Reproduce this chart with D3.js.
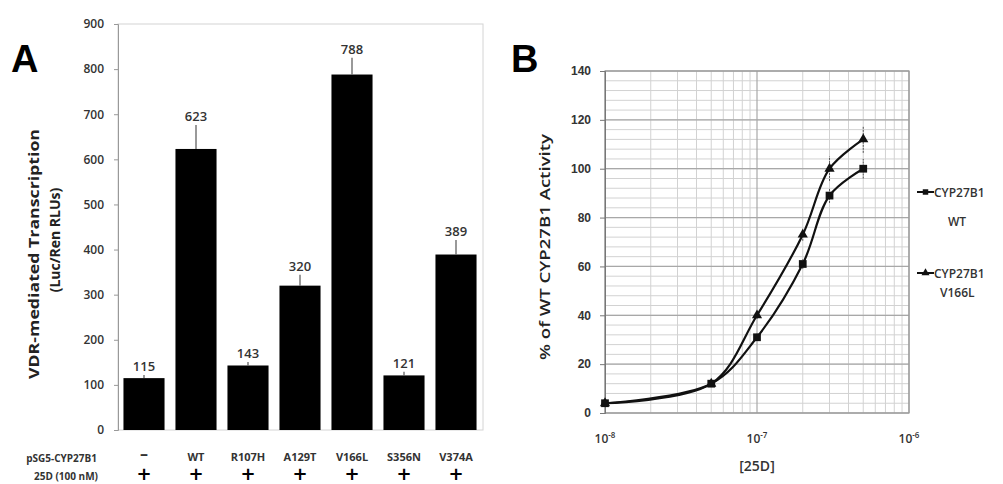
<!DOCTYPE html>
<html>
<head>
<meta charset="utf-8">
<script src="https://cdn.jsdelivr.net/npm/d3@7/dist/d3.min.js"></script>
<style>
  body { margin: 0; background: #fff; }
  svg { display: block; font-family: "Open Sans", "DejaVu Sans", sans-serif; }
</style>
</head>
<body>
<svg id="fig" width="1003" height="484"></svg>
<script>
// Panel A data
var categories = ["\u2013", "WT", "R107H", "A129T", "V166L", "S356N", "V374A"];
var activity = [115, 623, 143, 320, 788, 121, 389];
var activityErr = [7, 53, 8, 24, 37, 8, 32];
var yTicksA = [0, 100, 200, 300, 400, 500, 600, 700, 800, 900];

// Panel B data
var dose = [1e-8, 5e-8, 1e-7, 2e-7, 3e-7, 5e-7];
var wt = [4, 12, 31, 61, 89, 100];
var wtErr = [1, 1, 1.5, 2, 3, 4];
var v166l = [4, 12, 40, 73, 100, 112];
var v166lErr = [1, 1, 1.5, 2.5, 5, 5.5];
var yTicksB = [0, 20, 40, 60, 80, 100, 120, 140];
var xTicksB = [1e-8, 1e-7, 1e-6];

var svg = d3.select("#fig");
var ink = "#000";
var txt = "#333";

// ---------- Panel A ----------
var xA = d3.scaleBand().domain(categories).range([118, 482]).paddingInner(0.21).paddingOuter(0.105);
var yA = d3.scaleLinear().domain([0, 900]).range([430, 24]);

var gA = svg.append("g");

gA.append("rect")
	.attr("x", 118).attr("y", 24)
	.attr("width", 365).attr("height", 406)
	.attr("fill", "none").attr("stroke", "#d4d4d4").attr("stroke-width", 1);

gA.append("g")
	.attr("transform", "translate(118,0)")
	.call(d3.axisLeft(yA).tickValues(yTicksA).tickSize(4).tickPadding(10))
	.call(function(g) {
		g.select(".domain").attr("stroke", "#999");
		g.selectAll(".tick line").attr("stroke", "#999");
		g.selectAll(".tick text").attr("fill", txt).attr("font-size", 12).attr("font-family", "Open Sans").attr("font-weight", 600);
	});

gA.selectAll(".bar").data(activity).enter().append("rect")
	.attr("class", "bar")
	.attr("x", function(d, i) { return xA(categories[i]); })
	.attr("width", xA.bandwidth())
	.attr("y", function(d) { return yA(d); })
	.attr("height", function(d) { return yA(0) - yA(d); })
	.attr("fill", ink);

gA.selectAll(".err").data(activity).enter().append("line")
	.attr("class", "err")
	.attr("x1", function(d, i) { return xA(categories[i]) + xA.bandwidth() / 2; })
	.attr("x2", function(d, i) { return xA(categories[i]) + xA.bandwidth() / 2; })
	.attr("y1", function(d) { return yA(d); })
	.attr("y2", function(d, i) { return yA(d + activityErr[i]); })
	.attr("stroke", "#555").attr("stroke-width", 1.2);

gA.selectAll(".val").data(activity).enter().append("text")
	.attr("class", "val")
	.attr("x", function(d, i) { return xA(categories[i]) + xA.bandwidth() / 2; })
	.attr("y", function(d, i) { return yA(d + activityErr[i]) - 4; })
	.attr("text-anchor", "middle")
	.attr("font-size", 13).attr("font-weight", 600).attr("fill", txt)
	.text(function(d) { return d; });

gA.selectAll(".cat").data(categories).enter().append("text")
	.attr("class", "cat")
	.attr("x", function(d) { return xA(d) + xA.bandwidth() / 2; })
	.attr("y", function(d, i) { return i === 0 ? 459 : 461; })
	.attr("text-anchor", "middle")
	.attr("font-size", function(d, i) { return i === 0 ? 16 : 11; })
	.attr("font-weight", 700).attr("fill", txt)
	.text(function(d) { return d; });

gA.selectAll(".plus").data(categories).enter().append("text")
	.attr("class", "plus")
	.attr("x", function(d) { return xA(d) + xA.bandwidth() / 2; })
	.attr("y", 480)
	.attr("text-anchor", "middle")
	.attr("font-family", "DejaVu Sans")
	.attr("font-size", 18).attr("font-weight", 700).attr("fill", ink)
	.text("+");

gA.append("text").attr("x", 97).attr("y", 462).attr("text-anchor", "end")
	.attr("font-size", 10).attr("font-weight", 700).attr("fill", txt).text("pSG5-CYP27B1");
gA.append("text").attr("x", 98).attr("y", 480).attr("text-anchor", "end")
	.attr("font-size", 10).attr("font-weight", 700).attr("fill", txt).text("25D (100 nM)");

gA.append("text")
	.attr("transform", "translate(39,254) rotate(-90)")
	.attr("text-anchor", "middle")
	.attr("font-size", 15).attr("font-weight", 700).attr("fill", "#222")
	.attr("textLength", 250).attr("lengthAdjust", "spacingAndGlyphs")
	.text("VDR-mediated Transcription");
gA.append("text")
	.attr("transform", "translate(60,240) rotate(-90)")
	.attr("text-anchor", "middle")
	.attr("font-size", 14).attr("font-weight", 700).attr("fill", "#222")
	.text("(Luc/Ren RLUs)");

svg.append("text").attr("x", 11).attr("y", 72)
	.attr("font-size", 38).attr("font-weight", 700).attr("font-family", "Liberation Sans").attr("fill", ink).text("A");

// ---------- Panel B ----------
var xB = d3.scaleLog().domain([1e-8, 1e-6]).range([605, 909]);
var yB = d3.scaleLinear().domain([0, 140]).range([413, 71]);

var gB = svg.append("g");

var minorX = [];
[1e-8, 1e-7].forEach(function(dec) {
	for (var k = 2; k <= 9; k++) minorX.push(k * dec);
});
var minorY = d3.range(0, 141, 4);

gB.selectAll(".gyMinor").data(minorY).enter().append("line")
	.attr("x1", 605).attr("x2", 909)
	.attr("y1", function(d) { return yB(d); }).attr("y2", function(d) { return yB(d); })
	.attr("stroke", "#d2d2d2").attr("stroke-width", 1);
gB.selectAll(".gxMinor").data(minorX).enter().append("line")
	.attr("y1", 71).attr("y2", 413)
	.attr("x1", function(d) { return xB(d); }).attr("x2", function(d) { return xB(d); })
	.attr("stroke", "#d2d2d2").attr("stroke-width", 1);
gB.selectAll(".gyMajor").data(yTicksB).enter().append("line")
	.attr("x1", 605).attr("x2", 909)
	.attr("y1", function(d) { return yB(d); }).attr("y2", function(d) { return yB(d); })
	.attr("stroke", "#a8a8a8").attr("stroke-width", 1.2);
gB.selectAll(".gxMajor").data(xTicksB).enter().append("line")
	.attr("y1", 71).attr("y2", 413)
	.attr("x1", function(d) { return xB(d); }).attr("x2", function(d) { return xB(d); })
	.attr("stroke", "#a8a8a8").attr("stroke-width", 1.2);

gB.append("rect")
	.attr("x", 605).attr("y", 71).attr("width", 304).attr("height", 342)
	.attr("fill", "none").attr("stroke", "#9a9a9a").attr("stroke-width", 1.2);

gB.append("g")
	.attr("transform", "translate(605,0)")
	.call(d3.axisLeft(yB).tickValues(yTicksB).tickSize(5).tickPadding(9))
	.call(function(g) {
		g.select(".domain").attr("stroke", "#777");
		g.selectAll(".tick line").attr("stroke", "#777");
		g.selectAll(".tick text").attr("fill", txt).attr("font-size", 12).attr("font-weight", 600);
	});

var xLab = gB.selectAll(".xlab").data(xTicksB).enter().append("text")
	.attr("x", function(d) { return xB(d); })
	.attr("y", 443)
	.attr("text-anchor", "middle")
	.attr("font-size", 12).attr("font-weight", 600).attr("fill", txt);
xLab.append("tspan").text("10");
xLab.append("tspan").attr("dy", -5).attr("font-size", 8)
	.text(function(d) { return "-" + Math.round(-Math.log10(d)); });

gB.append("text").attr("x", 757).attr("y", 471).attr("text-anchor", "middle")
	.attr("font-size", 14).attr("font-weight", 600).attr("fill", txt).text("[25D]");

gB.append("text")
	.attr("transform", "translate(550,247) rotate(-90)")
	.attr("text-anchor", "middle")
	.attr("font-size", 15).attr("font-weight", 600).attr("fill", "#222")
	.attr("textLength", 226).attr("lengthAdjust", "spacingAndGlyphs")
	.text("% of WT CYP27B1 Activity");

svg.append("text").attr("x", 511).attr("y", 72)
	.attr("font-size", 38).attr("font-weight", 700).attr("font-family", "Liberation Sans").attr("fill", ink).text("B");

var line = d3.line()
	.x(function(d) { return xB(d[0]); })
	.y(function(d) { return yB(d[1]); })
	.curve(d3.curveCatmullRom.alpha(0.5));

var series = [
	{ name: "WT", vals: wt, err: wtErr, shape: d3.symbolSquare },
	{ name: "V166L", vals: v166l, err: v166lErr, shape: d3.symbolTriangle }
];

series.forEach(function(s) {
	var pts = dose.map(function(x, i) { return [x, s.vals[i], s.err[i]]; });
	gB.append("path")
		.datum(pts)
		.attr("d", line)
		.attr("fill", "none").attr("stroke", "#111").attr("stroke-width", 2.2);
	gB.selectAll(null).data(pts).enter().append("line")
		.attr("x1", function(d) { return xB(d[0]); }).attr("x2", function(d) { return xB(d[0]); })
		.attr("y1", function(d) { return yB(d[1] - d[2]); }).attr("y2", function(d) { return yB(d[1] + d[2]); })
		.attr("stroke", "#555").attr("stroke-width", 1).attr("stroke-dasharray", "2,1");
	gB.selectAll(null).data(pts).enter().append("path")
		.attr("transform", function(d) { return "translate(" + xB(d[0]) + "," + yB(d[1]) + ")"; })
		.attr("d", d3.symbol().type(s.shape).size(s.shape === d3.symbolSquare ? 60 : 45))
		.attr("fill", "#111");
});

// legend
var legY = [192, 273];
var legSub = [[948, 34], [940, 24]];
series.forEach(function(s, i) {
	var lg = svg.append("g").attr("transform", "translate(0," + legY[i] + ")");
	lg.append("line").attr("x1", 917).attr("x2", 934).attr("y1", 0).attr("y2", 0)
		.attr("stroke", "#111").attr("stroke-width", 2);
	lg.append("path").attr("transform", "translate(925.5,0)")
		.attr("d", d3.symbol().type(s.shape).size(s.shape === d3.symbolSquare ? 30 : 28))
		.attr("fill", "#111");
	lg.append("text").attr("x", 934).attr("y", 4.5)
		.attr("font-size", 12).attr("font-weight", 600).attr("fill", txt).text("CYP27B1");
	lg.append("text").attr("x", legSub[i][0]).attr("y", legSub[i][1])
		.attr("font-size", 12).attr("font-weight", 600).attr("fill", txt).text(s.name);
});
</script>
</body>
</html>
